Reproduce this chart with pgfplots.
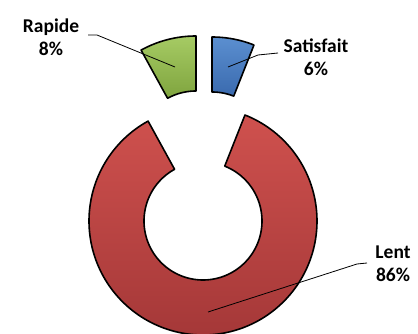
\documentclass[border=0pt]{standalone}
\usepackage{pgfplots}
\usepackage{pgfplotstable}
\usepackage{fontspec}
\setmainfont{Carlito}
\pgfplotsset{compat=1.18}

% share of answers per category (percent)
\pgfplotstableread{
name      value
Satisfait 6
Lent      86
Rapide    8
}\shares

\pgfplotstablegetelem{0}{value}\of\shares \let\vSat\pgfplotsretval
\pgfplotstablegetelem{1}{value}\of\shares \let\vLent\pgfplotsretval
\pgfplotstablegetelem{2}{value}\of\shares \let\vRap\pgfplotsretval

% slices run clockwise from the top
\pgfmathsetmacro{\aSatA}{90}
\pgfmathsetmacro{\aSatB}{90-3.6*\vSat}
\pgfmathsetmacro{\aLentA}{\aSatB}
\pgfmathsetmacro{\aLentB}{\aLentA-3.6*\vLent}
\pgfmathsetmacro{\aRapA}{\aLentB}
\pgfmathsetmacro{\aRapB}{\aRapA-3.6*\vRap}

\definecolor{redA}{HTML}{CF514E}
\definecolor{redB}{HTML}{A53838}
\definecolor{blueA}{HTML}{5B8FD0}
\definecolor{blueB}{HTML}{3A6AAE}
\definecolor{greenA}{HTML}{A6CB64}
\definecolor{greenB}{HTML}{7FA43E}

\tikzset{lbl/.style={font=\fontsize{19.5}{23.5}\selectfont\bfseries, align=center, text=black, inner sep=0pt}}

\begin{document}
\begin{tikzpicture}
\begin{axis}[
  width=418pt, height=334pt, scale only axis,
  xmin=0, xmax=418, ymin=0, ymax=334, y dir=reverse,
  hide axis, clip=true,
  declare function={
    % closed outline of a ring sector: outer arc, side, inner arc, side
    ringang(\t,\a,\b) = (\t<=2)*(\a+(\b-\a)*min(\t,1)) + (\t>2)*(\b-(\b-\a)*min(\t-2,1));
    ringrad(\t,\R,\r) = (\t<=1)*\R + and(\t>1,\t<=2)*(\R-(\R-\r)*(\t-1))
                  + and(\t>2,\t<=3)*\r + (\t>3)*(\r+(\R-\r)*(\t-3));
  },
]
% Lent
\addplot[draw=black, line width=1.6pt, line join=round, top color=redA, bottom color=redB,
  domain=0:4, samples=801, variable=\t]
  ({203+ringrad(\t,114,59)*cos(ringang(\t,\aLentA,\aLentB))},
   {221-ringrad(\t,114,59)*sin(ringang(\t,\aLentA,\aLentB))}) -- cycle;
% Satisfait
\addplot[draw=black, line width=1.6pt, line join=round, top color=blueA, bottom color=blueB,
  domain=0:4, samples=401, variable=\t]
  ({212+ringrad(\t,114,59)*cos(ringang(\t,\aSatA,\aSatB))},
   {151-ringrad(\t,114,59)*sin(ringang(\t,\aSatA,\aSatB))}) -- cycle;
% Rapide
\addplot[draw=black, line width=1.6pt, line join=round, top color=greenA, bottom color=greenB,
  domain=0:4, samples=401, variable=\t]
  ({196+ringrad(\t,114,59)*cos(ringang(\t,\aRapA,\aRapB))},
   {150-ringrad(\t,114,59)*sin(ringang(\t,\aRapA,\aRapB))}) -- cycle;

% leader lines
\addplot[black, line width=0.8pt] coordinates {(88,35) (97,35) (175,67)};
\addplot[black, line width=0.8pt] coordinates {(278,53) (258,55) (228,67)};
\addplot[black, line width=0.8pt] coordinates {(367,263) (357,264) (208,312)};

\node[lbl] at (axis cs:51,37) {Rapide\\\vRap\%};
\node[lbl] at (axis cs:316,57) {Satisfait\\\vSat\%};
\node[lbl] at (axis cs:393,264) {Lent\\\vLent\%};
\end{axis}
\path (current axis.south west) rectangle (current axis.north east);
\end{tikzpicture}
\end{document}
